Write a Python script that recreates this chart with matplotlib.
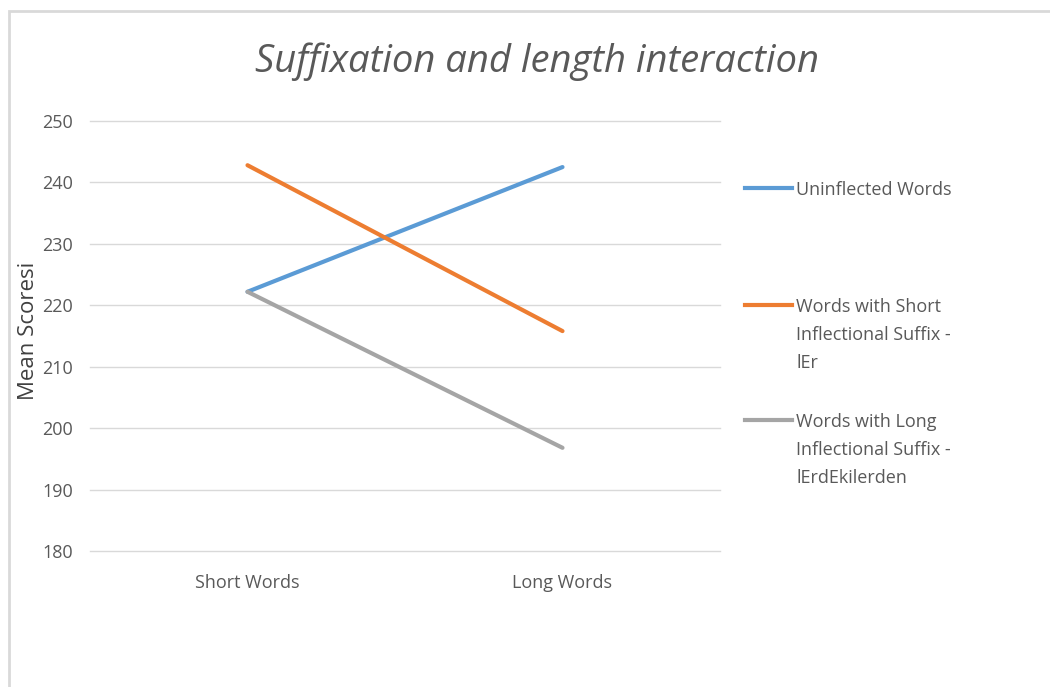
import matplotlib
matplotlib.use("Agg")
import matplotlib.pyplot as plt
from matplotlib.lines import Line2D
from matplotlib.patches import Rectangle

categories = ["Short Words", "Long Words"]
uninflected = [222.2, 242.5]
short_suffix = [242.8, 215.8]
long_suffix = [222.2, 196.8]
series_names = ["Uninflected Words",
                "Words with Short\nInflectional Suffix -\nlEr",
                "Words with Long\nInflectional Suffix -\nlErdEkilerden"]
yticks = [180, 190, 200, 210, 220, 230, 240, 250]

colors = ["#5B9BD5", "#ED7D31", "#A5A5A5"]
txt = "#595959"
plt.rcParams['font.family'] = ['Open Sans', 'DejaVu Sans']

W, H = 1050, 687
fig = plt.figure(figsize=(W/100, H/100), dpi=100)
fig.patches.append(Rectangle((9/W, -0.1), 1.2, 1 - 11/H + 0.1, transform=fig.transFigure,
                             fill=False, edgecolor="#D9D9D9", linewidth=2))

ax = fig.add_axes([90/W, 1 - 551/H, 630/W, 430/H])
x = list(range(len(categories)))
for vals, c in zip([uninflected, short_suffix, long_suffix], colors):
    ax.plot(x, vals, color=c, linewidth=3, solid_capstyle='round', zorder=3)

ax.set_xlim(-0.5, 1.5)
ax.set_ylim(180, 250)
ax.set_yticks(yticks)
ax.set_xticks(x)
ax.set_xticklabels(categories)
ax.grid(axis='y', color="#D9D9D9", linewidth=1)
for gl in ax.get_ygridlines():
    gl.set_clip_on(False)
ax.set_axisbelow(True)
for s in ax.spines.values():
    s.set_visible(False)
ax.tick_params(length=0, labelsize=13, colors=txt, pad=12)
ax.tick_params(axis='x', pad=16.5)

fig.text(29/W, 1 - 331/H, "Mean Scoresi", rotation=90, ha='center', va='center',
         fontsize=16, color="#404040")

fig.text(537/W, 1 - 62/H, "Suffixation and length interaction", ha='center', va='center',
         fontsize=27.5, style='italic', color=txt)

leg_y = [188, 305, 420]
for yy, c, name in zip(leg_y, colors, series_names):
    fig.add_artist(Line2D([745/W, 792/W], [1 - yy/H, 1 - yy/H], transform=fig.transFigure,
                          color=c, linewidth=3))
    fig.text(796/W, 1 - (yy - 7)/H, name, ha='left', va='top', fontsize=13,
             color=txt, linespacing=1.7)

fig.savefig("out.png", dpi=100)
